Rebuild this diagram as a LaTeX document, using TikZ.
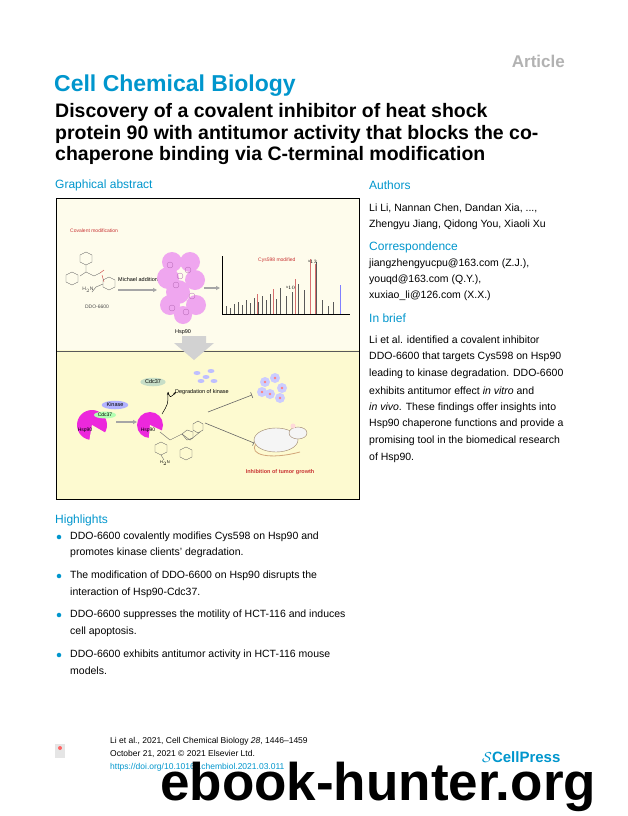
\documentclass[tikz,border=0pt]{standalone}
\usepackage{fontspec}
\setmainfont{Liberation Sans}
\usetikzlibrary{arrows.meta,shapes.geometric}
\definecolor{cblue}{RGB}{0,150,205}
\definecolor{pale}{RGB}{254,252,236}
\definecolor{yel}{RGB}{253,250,208}
\definecolor{mag}{RGB}{236,40,220}
\definecolor{rd}{RGB}{200,50,50}
\tikzset{
 txt/.style={anchor=west,inner sep=0pt,font=\fontsize{10.5}{12}\selectfont},
 head/.style={anchor=west,inner sep=0pt,text=cblue,font=\fontsize{12}{14}\selectfont},
 ttl/.style={anchor=west,inner sep=0pt,font=\fontsize{19.5}{22}\selectfont\bfseries},
 tiny/.style={inner sep=0pt,font=\fontsize{5}{6}\selectfont},
 garrow/.style={-{Triangle[length=4pt,width=4pt]},gray!70,line width=1.6pt},
 inh/.style={-{Bar[width=6pt]},gray!80!black,line width=0.6pt},
 bond/.style={gray!80!black,line width=0.4pt},
 dot/.style={circle,fill=cblue,inner sep=1.6pt},
}
\begin{document}
\begin{tikzpicture}[x=1pt,y=-1pt]
\useasboundingbox (0,0) rectangle (628,816);
\fill[white] (0,0) rectangle (628,816);
\node[anchor=east,inner sep=0pt,text=gray!60,font=\fontsize{17}{20}\selectfont\bfseries] (art) at (565,61) {Article};
\node[anchor=west,inner sep=0pt,text=cblue,font=\fontsize{23}{26}\selectfont\bfseries] (jr) at (54,86) {Cell Chemical Biology};
\node[ttl] (t1) at (55,112) {Discovery of a covalent inhibitor of heat shock};
\node[ttl] (t2) at (55,134) {protein 90 with antitumor activity that blocks the co-};
\node[ttl] (t3) at (55,156) {chaperone binding via C-terminal modification};
\node[head] (ga) at (55,185) {Graphical abstract};
\node[head] (au) at (369,185) {Authors};
\node[txt] (a1) at (369,208) {Li Li, Nannan Chen, Dandan Xia, ...,};
\node[txt] (a2) at (369,225) {Zhengyu Jiang, Qidong You, Xiaoli Xu};
\node[head] (co) at (369,247) {Correspondence};
\node[txt] (c1) at (369,264) {jiangzhengyucpu@163.com (Z.J.),};
\node[txt] (c2) at (369,280) {youqd@163.com (Q.Y.),};
\node[txt] (c3) at (369,296) {xuxiao\_li@126.com (X.X.)};
\node[head] (ib) at (369,318) {In brief};
\node[txt] (b1) at (369,340) {Li et al. identified a covalent inhibitor};
\node[txt] (b2) at (369,357) {DDO-6600 that targets Cys598 on Hsp90};
\node[txt] (b3) at (369,374) {leading to kinase degradation. DDO-6600};
\node[txt] (b4) at (369,391) {exhibits antitumor effect \textit{in vitro} and};
\node[txt] (b5) at (369,408) {\textit{in vivo}. These findings offer insights into};
\node[txt] (b6) at (369,424) {Hsp90 chaperone functions and provide a};
\node[txt] (b7) at (369,441) {promising tool in the biomedical research};
\node[txt] (b8) at (369,458) {of Hsp90.};
% graphical abstract box
\fill[pale] (56,198) rectangle (359,350);
\fill[yel] (56,350) rectangle (359,499);
\draw[gray!70!black,line width=0.6pt] (56,351) -- (359,351);
\draw[black,line width=1pt] (56,198) rectangle (359,499);
\node[tiny,text=rd,anchor=west] (cm) at (70,231) {Covalent modification};
% molecule 1
\draw[bond] (80,255) -- ++(6,-3) -- ++(6,3) -- ++(0,7) -- ++(-6,3) -- ++(-6,-3) -- cycle;
\draw[bond] (66,275) -- ++(6,-3) -- ++(6,3) -- ++(0,7) -- ++(-6,3) -- ++(-6,-3) -- cycle;
\draw[bond] (86,265) -- (86,272) -- (80,276) (86,272) -- (94,276) -- (100,273);
\draw[rd,line width=0.4pt] (100,273) -- (104,270) (102,275) -- (104,282);
\draw[bond] (103,280) -- ++(6,-3) -- ++(6,3) -- ++(0,7) -- ++(-6,3) -- ++(-6,-3) -- cycle;
\draw[bond] (103,284) -- (96,287) -- (92,292);
\node[tiny,text=gray!60!black] (n1) at (88,290) {H$_2$N};
\node[tiny,text=gray!60!black] (ddo) at (97,307) {DDO-6600};
\node[tiny,font=\fontsize{5.5}{6}\selectfont,anchor=west] (ma) at (118,280) {Michael addition};
\coordinate (m1s) at (118,290); \coordinate (m1e) at (157,290);
\draw[garrow] (m1s) -- (m1e);
% protein
\foreach \x/\y/\r in {172/262/10,190/262/10,168/278/11,195/280/10,178/292/12,170/305/10,196/305/10,183/315/9}
  \fill[violet!35!magenta!35] (\x,\y) circle (\r);
\foreach \x/\y in {170/265,188/270,176/285,192/296,172/308,186/312,180/276}
  \draw[violet!60,line width=0.3pt] (\x,\y) circle (3);
\node[tiny,font=\fontsize{5.5}{6}\selectfont] (hsp) at (183,332) {Hsp90};
\coordinate (m2s) at (204,288); \coordinate (m2e) at (220,288);
\draw[garrow] (m2s) -- (m2e);
% spectrum
\draw[black,line width=0.4pt] (222,256) -- (222,314) -- (350,314);
\node[tiny,text=rd,anchor=west] (cys) at (258,260) {Cys598 modified};
\foreach \x/\h in {226/8,230/6,234/10,238/12,242/9,246/14,250/11,254/16,258/12,262/18,266/14,270/20,276/15,280/26,286/18,292/22,298/30,304/24,310/38,316/52,322/14,328/8,333/12,340/22}
  \draw[gray!70!black,line width=0.5pt] (\x,314) -- (\x,314-\h);
\foreach \x/\h in {257/20,273/25,295/35,310/55,315/50}
  \draw[rd!70,line width=0.5pt] (\x,314) -- (\x,314-\h);
\draw[blue!50,line width=0.6pt] (340,314) -- (340,285);
\node[tiny,font=\fontsize{3}{3}\selectfont] (s1) at (291,288) {b$_{10}$};
\node[tiny,font=\fontsize{3}{3}\selectfont] (s2) at (313,262) {b$_{13}$};
% big down arrow
\fill[gray!35] (182,336) -- (206,336) -- (206,343) -- (214,343) -- (194,360) -- (174,343) -- (182,343) -- cycle;
% lower panel
\node[ellipse,fill=green!25!gray!35,inner sep=1pt,font=\fontsize{5.5}{6}\selectfont] (cdc) at (153,382) {Cdc37};
\foreach \x/\y in {197/373,206/377,201/381,211/371,214/381}
  \fill[blue!25] (\x,\y) ellipse (3.5 and 2);
\node[tiny,font=\fontsize{5.5}{6}\selectfont,anchor=west] (deg) at (175,392) {Degradation of kinase};
\foreach \x/\y in {265/382,275/378,282/388,270/394,280/398,262/392}
  {\fill[blue!20] (\x,\y) circle (5); \fill[red!50] (\x,\y) circle (1.3);}
% first complex
\fill[mag] (92,425) circle (15);
\fill[yel] (92,425) -- ++(30:16) arc (30:100:16) -- cycle;
\node[ellipse,fill=blue!30,inner sep=1pt,font=\fontsize{5.5}{6}\selectfont] (kin) at (115,405) {Kinase};
\node[ellipse,fill=green!30,inner sep=0.6pt,font=\fontsize{5}{6}\selectfont] (cdc2) at (105,415) {Cdc37};
\node[tiny,font=\fontsize{5}{6}\selectfont] (h1) at (85,430) {Hsp90};
\coordinate (a3s) at (116,422); \coordinate (a3e) at (137,422);
\draw[garrow,line width=1.2pt] (a3s) -- (a3e);
% second pacman
\fill[mag] (150,425) circle (13);
\fill[yel] (150,425) -- ++(25:14) arc (25:95:14) -- cycle;
\node[tiny,font=\fontsize{5}{6}\selectfont] (h2) at (148,430) {Hsp90};
\coordinate (cs) at (162,414); \coordinate (ce) at (168,392); \coordinate (ce2) at (176,392);
\draw[-{Stealth[length=3pt]},line width=0.5pt] (cs) .. controls (168,404) .. (ce);
\draw[-{Stealth[length=3pt]},line width=0.5pt] (ce) ++(0,0) .. controls (170,398) .. (ce2);
% molecule 2
\draw[bond] (160,432) -- (170,440) -- (182,434) -- (190,440) -- (200,432);
\draw[bond] (182,434) -- ++(5,-4) -- ++(6,2) -- ++(0,6) -- ++(-6,2) -- cycle;
\draw[bond] (193,424) -- ++(5,-3) -- ++(5,3) -- ++(0,6) -- ++(-5,3) -- ++(-5,-3) -- cycle;
\draw[bond] (155,445) -- ++(6,-3) -- ++(6,3) -- ++(0,7) -- ++(-6,3) -- ++(-6,-3) -- cycle;
\draw[bond] (180,450) -- ++(6,-3) -- ++(6,3) -- ++(0,7) -- ++(-6,3) -- ++(-6,-3) -- cycle;
\draw[bond] (161,455) -- (164,460);
\node[tiny,font=\fontsize{4}{5}\selectfont] (n2) at (165,463) {H$_2$N};
% inhibition lines
\coordinate (i1s) at (208,412); \coordinate (i1e) at (252,395);
\coordinate (i2s) at (205,423); \coordinate (i2e) at (254,443);
\draw[inh] (i1s) -- (i1e);
\draw[inh] (i2s) -- (i2e);
% mouse
\fill[gray!8] (276,440) ellipse (22 and 12);
\draw[gray!60!brown,line width=0.4pt] (276,440) ellipse (22 and 12);
\fill[gray!8] (298,433) ellipse (9 and 6);
\draw[gray!60!brown,line width=0.4pt] (298,433) ellipse (9 and 6);
\draw[brown!70,line width=0.8pt] (256,444) .. controls (248,455) and (270,460) .. (300,452);
\fill[pink!60] (293,426) circle (2.5);
\node[tiny,text=rd,font=\fontsize{5.5}{6}\selectfont\bfseries] (inhb) at (280,472) {Inhibition of tumor growth};
% highlights
\node[head] (hl) at (55,520) {Highlights};
\node[dot] (d1) at (59,537) {};
\node[txt] (h1a) at (70,537) {DDO-6600 covalently modifies Cys598 on Hsp90 and};
\node[txt] (h1b) at (70,553) {promotes kinase clients' degradation.};
\node[dot] (d2) at (59,576) {};
\node[txt] (h2a) at (70,576) {The modification of DDO-6600 on Hsp90 disrupts the};
\node[txt] (h2b) at (70,593) {interaction of Hsp90-Cdc37.};
\node[dot] (d3) at (59,615) {};
\node[txt] (h3a) at (70,615) {DDO-6600 suppresses the motility of HCT-116 and induces};
\node[txt] (h3b) at (70,632) {cell apoptosis.};
\node[dot] (d4) at (59,655) {};
\node[txt] (h4a) at (70,655) {DDO-6600 exhibits antitumor activity in HCT-116 mouse};
\node[txt] (h4b) at (70,671) {models.};
% footer
\fill[gray!20] (55,744) rectangle (65,758);
\fill[red!60] (60,748) circle (2);
\node[txt,font=\fontsize{8.5}{10}\selectfont] (f1) at (110,741) {Li et al., 2021, Cell Chemical Biology \textit{28}, 1446--1459};
\node[txt,font=\fontsize{8.5}{10}\selectfont] (f2) at (110,754) {October 21, 2021 © 2021 Elsevier Ltd.};
\node[txt,font=\fontsize{8.5}{10}\selectfont,text=cblue] (f3) at (110,767) {https://doi.org/10.1016/j.chembiol.2021.03.011};
\node[anchor=west,inner sep=0pt,text=cblue,font=\fontsize{15}{17}\selectfont\bfseries] (cp) at (482,757) {$\mathcal{S}$CellPress};
\node[anchor=west,inner sep=0pt,font=\fontsize{53}{60}\selectfont\bfseries] (wm) at (160,787) {ebook-hunter.org};
\end{tikzpicture}
\end{document}
